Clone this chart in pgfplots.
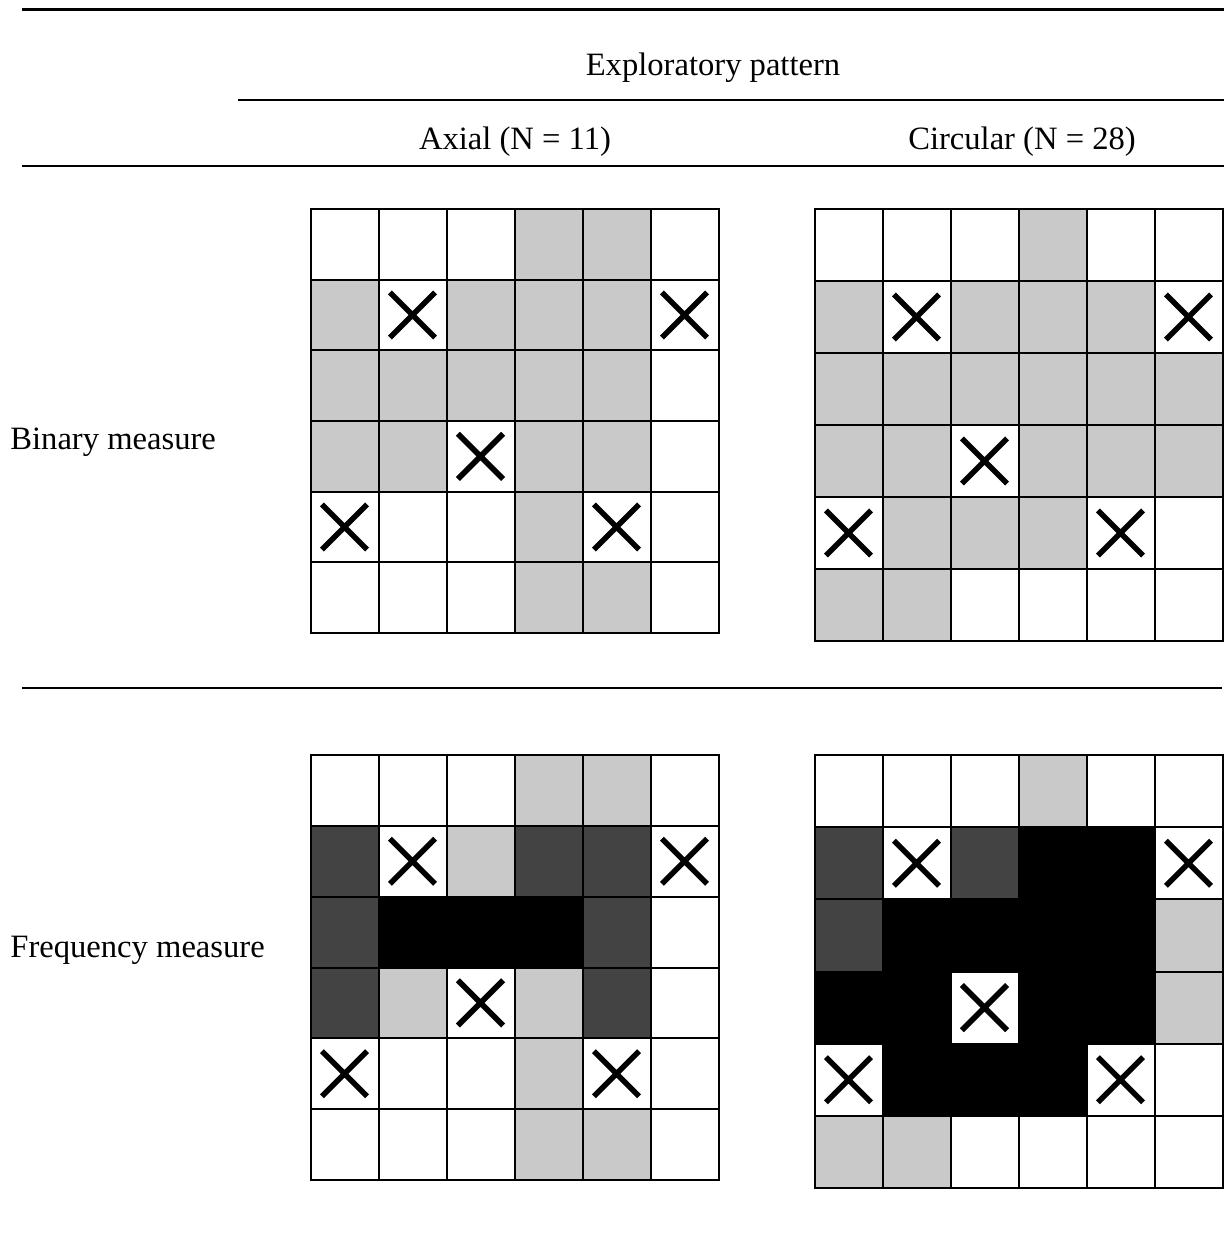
\documentclass[border=0pt]{standalone}
\usepackage{fontspec}
\setmainfont{Liberation Serif}
\usepackage{pgfplots}
\pgfplotsset{compat=1.18}
\definecolor{lg}{RGB}{201,201,201}
\definecolor{dg}{RGB}{67,67,67}
\pgfdeclareplotmark{bigx}{%
  \pgfsetlinewidth{2.8pt}\pgfsetbuttcap
  \pgfpathmoveto{\pgfqpoint{-11.3pt}{-11.3pt}}\pgfpathlineto{\pgfqpoint{11.3pt}{11.3pt}}%
  \pgfpathmoveto{\pgfqpoint{-11.3pt}{11.3pt}}\pgfpathlineto{\pgfqpoint{11.3pt}{-11.3pt}}%
  \pgfusepathqstroke}
\pgfplotsset{
  cellgrid/.style={
    scale only axis, width=204pt,
    xmin=-0.5, xmax=5.5, ymin=-0.5, ymax=5.5, y dir=reverse,
    xtick={0.5,1.5,2.5,3.5,4.5}, ytick={0.5,1.5,2.5,3.5,4.5},
    xticklabels={}, yticklabels={}, major tick length=0pt,
    grid=major, major grid style={black, line width=1pt},
    axis line style={black, line width=1pt},
    axis on top,
    colormap={bwg}{color(0)=(white) color(1)=(lg) color(2)=(dg) color(3)=(black)},
    colormap access=piecewise constant,
    point meta min=0, point meta max=3,
    anchor=north west,
  },
  cells/.style={matrix plot*, mesh/cols=6, point meta=explicit, draw=none},
  xmk/.style={only marks, mark=bigx, black, mark options={black}},
}
\begin{document}
\begin{tikzpicture}
\fontsize{16.3}{20}\selectfont
\path[use as bounding box] (0,0) rectangle (612pt,-628.5pt);
% rules
\draw[line width=1.5pt] (11pt,-5pt) -- (612pt,-5pt);
\draw[line width=1.1pt] (119pt,-50pt) -- (612pt,-50pt);
\draw[line width=1.1pt] (11pt,-83pt) -- (612pt,-83pt);
\draw[line width=1.1pt] (11pt,-344pt) -- (611pt,-344pt);
% headers
\node at (356.5pt,-34pt) {Exploratory pattern};
\node at (257.5pt,-71pt) {Axial (N = 11)};
\node at (511pt,-71pt) {Circular (N = 28)};
\node[anchor=west, inner sep=0pt] at (5pt,-221pt) {Binary measure};
\node[anchor=west, inner sep=0pt] at (5pt,-475pt) {Frequency measure};

% Axial binary
\begin{axis}[cellgrid, height=212pt, at={(155.25pt,-104.5pt)}]
\addplot[cells] coordinates {
(0,0)[0] (1,0)[0] (2,0)[0] (3,0)[1] (4,0)[1] (5,0)[0]
(0,1)[1] (1,1)[0] (2,1)[1] (3,1)[1] (4,1)[1] (5,1)[0]
(0,2)[1] (1,2)[1] (2,2)[1] (3,2)[1] (4,2)[1] (5,2)[0]
(0,3)[1] (1,3)[1] (2,3)[0] (3,3)[1] (4,3)[1] (5,3)[0]
(0,4)[0] (1,4)[0] (2,4)[0] (3,4)[1] (4,4)[0] (5,4)[0]
(0,5)[0] (1,5)[0] (2,5)[0] (3,5)[1] (4,5)[1] (5,5)[0]
};
\addplot[xmk] coordinates {(1,1) (5,1) (2,3) (0,4) (4,4)};
\end{axis}

% Circular binary
\begin{axis}[cellgrid, height=216pt, at={(407.25pt,-104.5pt)}]
\addplot[cells] coordinates {
(0,0)[0] (1,0)[0] (2,0)[0] (3,0)[1] (4,0)[0] (5,0)[0]
(0,1)[1] (1,1)[0] (2,1)[1] (3,1)[1] (4,1)[1] (5,1)[0]
(0,2)[1] (1,2)[1] (2,2)[1] (3,2)[1] (4,2)[1] (5,2)[1]
(0,3)[1] (1,3)[1] (2,3)[0] (3,3)[1] (4,3)[1] (5,3)[1]
(0,4)[0] (1,4)[1] (2,4)[1] (3,4)[1] (4,4)[0] (5,4)[0]
(0,5)[1] (1,5)[1] (2,5)[0] (3,5)[0] (4,5)[0] (5,5)[0]
};
\addplot[xmk] coordinates {(1,1) (5,1) (2,3) (0,4) (4,4)};
\end{axis}

% Axial frequency
\begin{axis}[cellgrid, height=212.5pt, at={(155.25pt,-377.5pt)}]
\addplot[cells] coordinates {
(0,0)[0] (1,0)[0] (2,0)[0] (3,0)[1] (4,0)[1] (5,0)[0]
(0,1)[2] (1,1)[0] (2,1)[1] (3,1)[2] (4,1)[2] (5,1)[0]
(0,2)[2] (1,2)[3] (2,2)[3] (3,2)[3] (4,2)[2] (5,2)[0]
(0,3)[2] (1,3)[1] (2,3)[0] (3,3)[1] (4,3)[2] (5,3)[0]
(0,4)[0] (1,4)[0] (2,4)[0] (3,4)[1] (4,4)[0] (5,4)[0]
(0,5)[0] (1,5)[0] (2,5)[0] (3,5)[1] (4,5)[1] (5,5)[0]
};
\addplot[xmk] coordinates {(1,1) (5,1) (2,3) (0,4) (4,4)};
\end{axis}

% Circular frequency
\begin{axis}[cellgrid, height=216.5pt, at={(407.25pt,-377.5pt)}]
\addplot[cells] coordinates {
(0,0)[0] (1,0)[0] (2,0)[0] (3,0)[1] (4,0)[0] (5,0)[0]
(0,1)[2] (1,1)[0] (2,1)[2] (3,1)[3] (4,1)[3] (5,1)[0]
(0,2)[2] (1,2)[3] (2,2)[3] (3,2)[3] (4,2)[3] (5,2)[1]
(0,3)[3] (1,3)[3] (2,3)[0] (3,3)[3] (4,3)[3] (5,3)[1]
(0,4)[0] (1,4)[3] (2,4)[3] (3,4)[3] (4,4)[0] (5,4)[0]
(0,5)[1] (1,5)[1] (2,5)[0] (3,5)[0] (4,5)[0] (5,5)[0]
};
\addplot[xmk] coordinates {(1,1) (5,1) (2,3) (0,4) (4,4)};
\end{axis}
\end{tikzpicture}
\end{document}
